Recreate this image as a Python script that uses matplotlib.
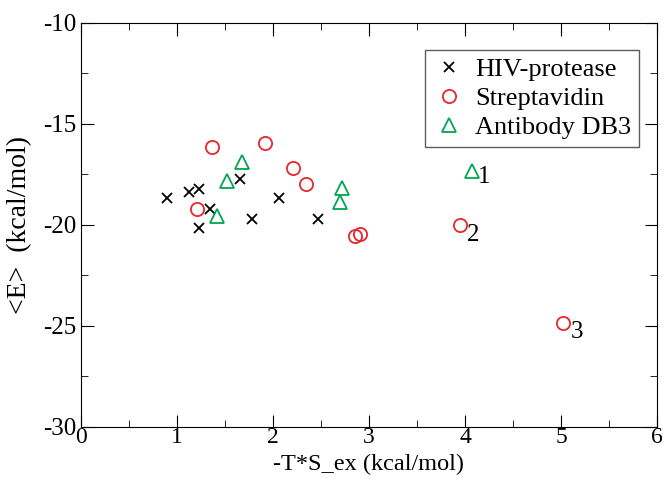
import matplotlib
matplotlib.use("Agg")
import matplotlib.pyplot as plt
from matplotlib.ticker import MultipleLocator

plt.rcParams['font.family'] = ['Liberation Serif', 'DejaVu Serif']
plt.rcParams['axes.unicode_minus'] = False

hiv_x = [0.90, 1.13, 1.23, 1.66, 1.34, 1.23, 2.06, 1.78, 2.47]
hiv_y = [-18.68, -18.37, -18.23, -17.74, -19.19, -20.16, -18.68, -19.70, -19.72]

strep_x = [1.36, 1.92, 2.21, 2.34, 1.21, 2.85, 2.91, 3.95, 5.02]
strep_y = [-16.12, -15.96, -17.16, -17.99, -19.21, -20.54, -20.46, -20.0, -24.84]

ab_x = [1.68, 1.52, 1.42, 2.72, 2.70, 4.07]
ab_y = [-16.87, -17.82, -19.54, -18.18, -18.85, -17.31]

labels = ["1", "2", "3"]
label_x = [4.20, 4.08, 5.17]
label_y = [-17.6, -20.5, -25.3]

fig = plt.figure(figsize=(6.66, 4.79), dpi=100)
ax = fig.add_axes([0.1216, 0.1086, 0.8649, 0.8434])

ax.plot(hiv_x, hiv_y, 'x', color='black', markersize=6.5, markeredgewidth=1.3,
        label='HIV-protease', linestyle='none')
ax.plot(strep_x, strep_y, 'o', markerfacecolor='none', markeredgecolor='#e8262a',
        markersize=9.5, markeredgewidth=1.3, label='Streptavidin', linestyle='none')
ax.plot(ab_x, ab_y, '^', markerfacecolor='none', markeredgecolor='#00a651',
        markersize=9.5, markeredgewidth=1.3, label='Antibody DB3', linestyle='none')

for t, x, y in zip(labels, label_x, label_y):
    ax.text(x, y, t, fontsize=18, ha='center', va='center')

ax.set_xlim(0, 6)
ax.set_ylim(-30, -10)
ax.xaxis.set_major_locator(MultipleLocator(1))
ax.xaxis.set_minor_locator(MultipleLocator(0.5))
ax.yaxis.set_major_locator(MultipleLocator(5))
ax.yaxis.set_minor_locator(MultipleLocator(2.5))
ax.tick_params(which='both', direction='in', top=True, right=True)
ax.tick_params(which='major', length=9)
ax.tick_params(axis='x', which='major', pad=0, labelsize=17)
ax.tick_params(axis='y', which='major', pad=3, labelsize=18)
ax.tick_params(which='minor', length=5)

ax.set_xlabel('-T*S_ex (kcal/mol)', fontsize=17.5)
ax.set_ylabel('<E>  (kcal/mol)', fontsize=20)
ax.xaxis.set_label_coords(0.5, -0.066)
ax.yaxis.set_label_coords(-0.085, 0.5)

leg = ax.legend(loc='upper right', bbox_to_anchor=(0.969, 0.933), borderaxespad=0,
                fontsize=19, frameon=True, fancybox=False, edgecolor='#333333',
                handletextpad=0.4, borderpad=0.3, labelspacing=0.2, handlelength=1.2)
leg.get_frame().set_linewidth(1.0)

fig.savefig('out.png', dpi=100)
